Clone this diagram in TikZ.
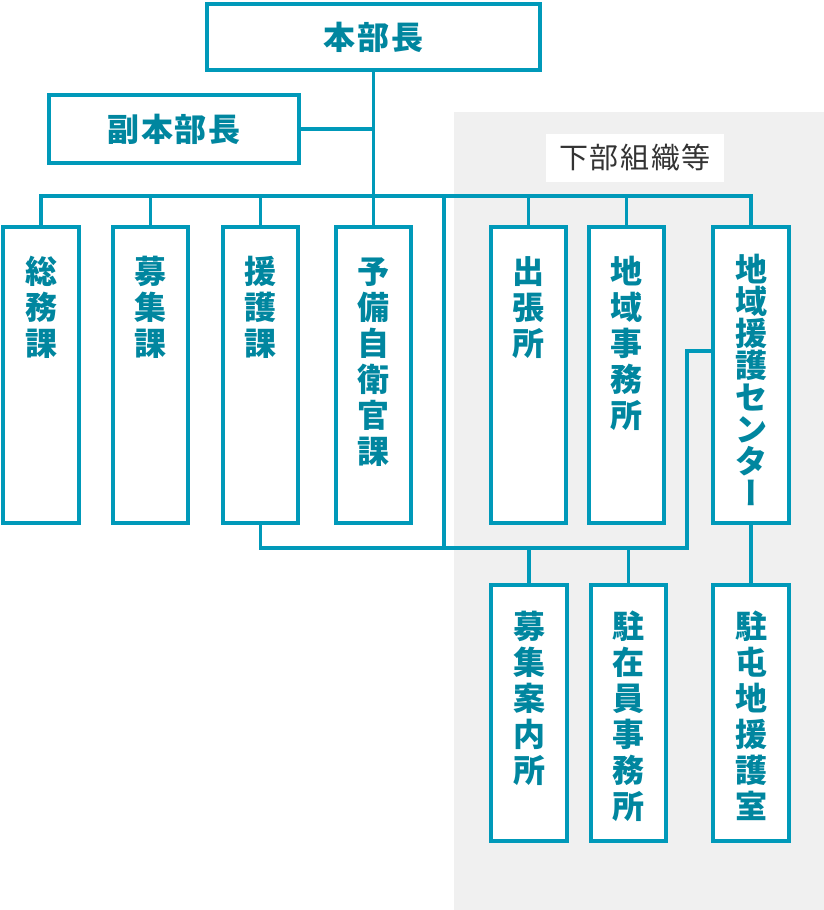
\documentclass[tikz,border=0pt]{standalone}
\usepackage{fontspec}
\setmainfont{Noto Sans CJK JP}
\newfontfamily\tatefont{Noto Sans CJK JP}[RawFeature=+vert]
\newfontfamily\headfont{Noto Sans CJK JP}[LetterSpace=6]
\usetikzlibrary{positioning,calc}

\definecolor{lineblue}{HTML}{0099B9}
\definecolor{textblue}{HTML}{00869F}
\definecolor{subbg}{HTML}{F0F0F0}
\definecolor{subtext}{HTML}{333333}

\begin{document}
\begin{tikzpicture}[
    x=1pt, y=-1pt,
    box/.style     ={draw=lineblue, line width=3.7pt, fill=white, inner sep=0pt,
                     text=textblue},
    head/.style    ={box, font=\headfont\bfseries\fontsize{32}{36}\selectfont},
    unit/.style    ={box, text width=75.5pt, align=center,
                     font=\bfseries\fontsize{32}{36}\selectfont,
                     text height=57pt, text depth=239.5pt},
    tight/.style   ={font=\bfseries\fontsize{32}{32}\selectfont,
                     text height=55pt, text depth=241.5pt},
    subunit/.style ={unit, text height=54pt, text depth=202.5pt},
    subttl/.style  ={fill=white, inner sep=0pt, minimum width=178pt,
                     minimum height=48pt, text=subtext,
                     font=\headfont\fontsize{29}{32}\selectfont},
    link/.style    ={draw=lineblue, line width=3.6pt},
]
\useasboundingbox (0,0) rectangle (824,910);

% ------------------------------------------------------------
% 下部組織等 の背景
% ------------------------------------------------------------
\fill[subbg] (454,112) rectangle (824,910);
\node[subttl] (subttl) at (635,158) {下部組織等};

% ------------------------------------------------------------
% 本部長・副本部長
% ------------------------------------------------------------
\node[head, minimum width=333.5pt, minimum height=66.5pt] (honbu) at (373.5,37) {本部長};
\node[head, minimum width=250.5pt, minimum height=68.5pt] (fuku)  at (174,129)  {副本部長};

% ------------------------------------------------------------
% 課
% ------------------------------------------------------------
\node[unit] (soumu) at (41,375)    {総\\務\\課};
\node[unit] (boshu) at (150.5,375) {募\\集\\課};
\node[unit] (engo)  at (260.5,375) {援\\護\\課};
\node[unit] (yobi)  at (373.5,375) {予\\備\\自\\衛\\官\\課};

% ------------------------------------------------------------
% 下部組織
% ------------------------------------------------------------
\node[unit] (shutcho) at (528.5,375) {出\\張\\所};
\node[unit] (chiiki)  at (626.5,375) {地\\域\\事\\務\\所};
\node[unit, tight] (center) at (751,375)
    {地\\域\\援\\護\\セ\\ン\\タ\\{\tatefont\bfseries ー}};

\node[subunit] (annai)     at (529,713)   {募\\集\\案\\内\\所};
\node[subunit] (chuzai)    at (628.5,713) {駐\\在\\員\\事\\務\\所};
\node[subunit] (chutonchi) at (751,713)   {駐\\屯\\地\\援\\護\\室};

% ------------------------------------------------------------
% 接続線
% ------------------------------------------------------------
\coordinate (bus)    at (373.5,196);
\coordinate (lowbus) at (444,548);
\coordinate (bend)   at (687,351);

\draw[link] (honbu.south) -- (yobi.north);
\draw[link] (fuku.east) -- (fuku.east -| honbu.south);
\draw[link] (soumu.north) |- (bus) -| (center.north);
\foreach \n in {boshu,engo,shutcho,chiiki}
    \draw[link] (\n.north) -- (\n.north |- bus);
\draw[link] (bus -| lowbus) -- (lowbus);
\draw[link] (center.west |- bend) -- (bend) |- (lowbus) -| (engo.south);
\foreach \n in {annai,chuzai}
    \draw[link] (\n.north) -- (\n.north |- lowbus);
\draw[link] (center.south) -- (chutonchi.north);

\end{tikzpicture}
\end{document}
